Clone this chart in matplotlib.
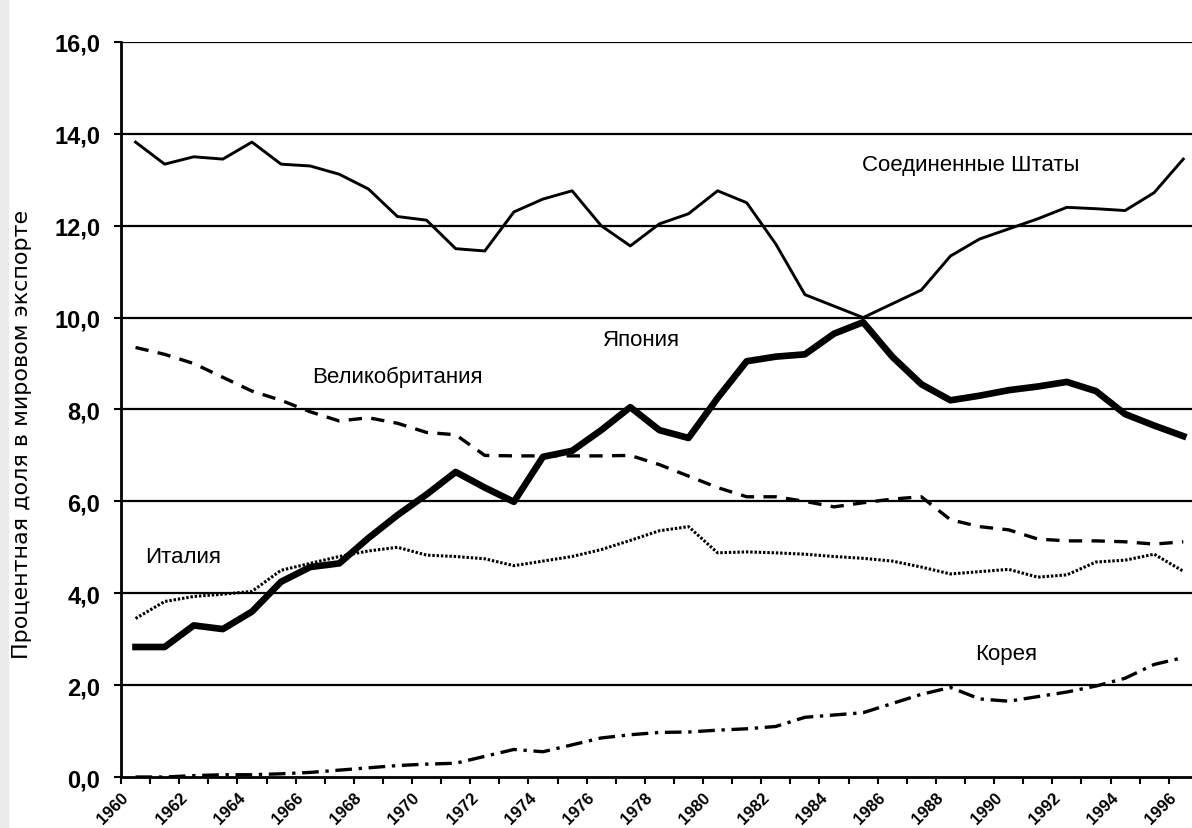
import matplotlib
matplotlib.use("Agg")
import matplotlib.pyplot as plt
from matplotlib.patches import Rectangle
import numpy as np

# share of world exports, %, 1960-1996
years = np.arange(1960, 1997)
usa = [13.82, 13.34, 13.5, 13.45, 13.82, 13.34, 13.3, 13.12, 12.8, 12.2, 12.12, 11.5, 11.45,
       12.3, 12.58, 12.76, 12.0, 11.56, 12.04, 12.26, 12.76, 12.5, 11.6, 10.5, 10.25, 10.0,
       10.3, 10.6, 11.34, 11.71, 11.93, 12.15, 12.4, 12.37, 12.33, 12.72, 13.45]
japan = [2.83, 2.83, 3.3, 3.22, 3.6, 4.25, 4.57, 4.65, 5.2, 5.7, 6.15, 6.64, 6.3, 5.99, 6.97,
         7.1, 7.55, 8.05, 7.55, 7.38, 8.25, 9.05, 9.15, 9.2, 9.65, 9.9, 9.15, 8.55, 8.2, 8.3,
         8.42, 8.5, 8.6, 8.4, 7.9, 7.65, 7.42]
uk = [9.35, 9.2, 9.0, 8.7, 8.4, 8.2, 7.95, 7.75, 7.82, 7.7, 7.5, 7.45, 7.0, 6.99, 6.99, 6.99,
      6.99, 7.0, 6.8, 6.55, 6.3, 6.1, 6.1, 6.0, 5.88, 5.97, 6.05, 6.1, 5.6, 5.45, 5.38, 5.18,
      5.14, 5.14, 5.12, 5.07, 5.12]
italy = [3.45, 3.82, 3.93, 3.98, 4.04, 4.5, 4.65, 4.8, 4.92, 5.0, 4.83, 4.8, 4.75, 4.6, 4.7,
         4.8, 4.95, 5.15, 5.36, 5.45, 4.88, 4.9, 4.88, 4.85, 4.8, 4.76, 4.7, 4.57, 4.42, 4.47,
         4.52, 4.35, 4.4, 4.68, 4.72, 4.85, 4.48]
korea = [0.0, 0.0, 0.03, 0.05, 0.05, 0.07, 0.1, 0.15, 0.2, 0.25, 0.28, 0.3, 0.45, 0.6, 0.55,
         0.7, 0.85, 0.92, 0.97, 0.98, 1.02, 1.05, 1.1, 1.3, 1.35, 1.4, 1.6, 1.8, 1.95, 1.7,
         1.65, 1.75, 1.85, 1.98, 2.15, 2.45, 2.6]

yticks = np.arange(0, 17, 2)
ylabel = "Процентная доля в мировом экспорте"

sans = ["Liberation Sans", "DejaVu Sans"]

fig = plt.figure(figsize=(11.92, 8.29), dpi=100)
fig.patches.append(Rectangle((0, 0), 8 / 1192, 1, transform=fig.transFigure,
                             color="#ebebeb", zorder=0))
ax = fig.add_axes([0.1015, 0.0615, 0.8985, 0.8867])

# points sit in the middle of each year slot
x = years + 0.5
ax.plot(x, usa, color="black", lw=2.1, solid_joinstyle="round")
ax.plot(x, japan, color="black", lw=4.8, solid_joinstyle="round")
ax.plot(x, uk, color="black", lw=2.4, dashes=(4, 2.8))
ax.plot(x, italy, color="black", lw=2.2, dashes=(0.8, 0.6))
ax.plot(x, korea, color="black", lw=2.4, dashes=(5, 2, 1, 2))

ax.set_xlim(1960, 1996.8)
ax.set_ylim(0, 16)

for v in yticks[1:]:
    ax.axhline(v, color="black", lw=1.6, zorder=1)

ax.set_yticks(yticks)
ax.set_yticklabels([f"{v:.1f}".replace(".", ",") for v in yticks],
                   family=sans, fontweight="bold", fontsize=17)
ax.set_xticks(years)
ax.set_xticklabels([str(y) if y % 2 == 0 else "" for y in years],
                   family=sans, fontweight="bold", fontsize=12,
                   rotation=45, ha="right", va="top", rotation_mode="anchor")
ax.tick_params(axis="both", direction="out", length=5, width=1.5, color="black")
ax.tick_params(axis="y", pad=10)
ax.tick_params(axis="x", pad=4)

for s in ["top", "right"]:
    ax.spines[s].set_visible(False)
ax.spines["left"].set_linewidth(2)
ax.spines["bottom"].set_linewidth(2)

ax.set_ylabel(ylabel, fontsize=16, family="DejaVu Sans")
ax.yaxis.set_label_coords(-0.083, 0.467)

lab = dict(fontsize=16, family=sans, va="center", ha="left")
ax.text(1985.46, 13.34, "Соединенные Штаты", **lab)
ax.text(1976.56, 9.53, "Япония", **lab)
ax.text(1966.56, 8.73, "Великобритания", **lab)
ax.text(1960.82, 4.81, "Италия", **lab)
ax.text(1989.35, 2.68, "Корея", **lab)

fig.savefig("out.png", dpi=100)
